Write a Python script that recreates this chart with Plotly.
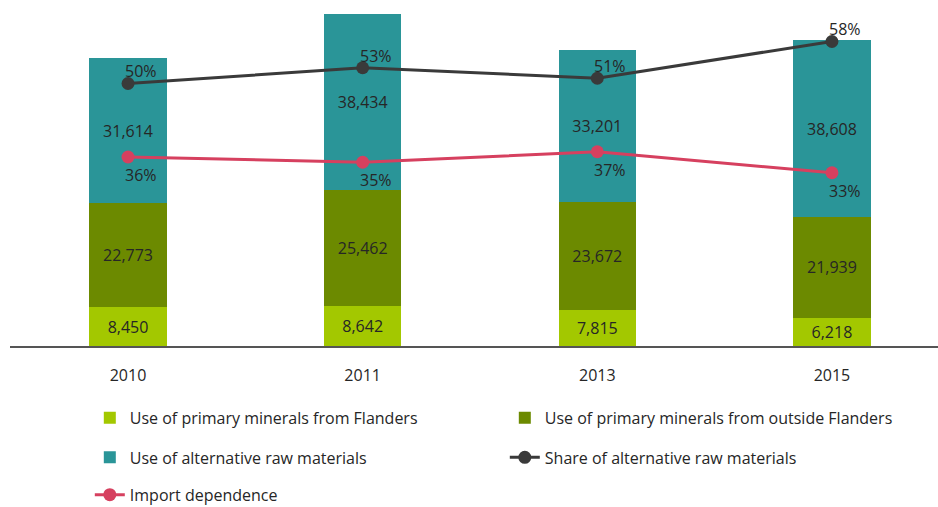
import plotly.graph_objects as go

years = ["2010", "2011", "2013", "2015"]
flanders = [8450, 8642, 7815, 6218]
outside = [22773, 25462, 23672, 21939]
alternative = [31614, 38434, 33201, 38608]
share_alt = [0.50, 0.53, 0.51, 0.58]
import_dep = [0.36, 0.35, 0.37, 0.33]

names = [
    "Use of primary minerals from Flanders",
    "Use of primary minerals from outside Flanders",
    "Use of alternative raw materials",
    "Share of alternative raw materials",
    "Import dependence",
]
c_fl = "#a3c800"
c_out = "#6c8a00"
c_alt = "#2a9598"
c_share = "#3a3a3a"
c_imp = "#d6405f"

FONT = "Open Sans"
FS = 16
txt = dict(family=FONT, size=FS, color="#262626")

fig = go.Figure()
for vals, col, nm, lg in [(flanders, c_fl, names[0], "legend"),
                          (outside, c_out, names[1], "legend"),
                          (alternative, c_alt, names[2], "legend2")]:
    fig.add_trace(go.Bar(
        x=years, y=vals, name=nm, marker=dict(color=col, line=dict(width=0)),
        width=0.33, texttemplate="%{y:,}", textposition="inside",
        insidetextanchor="middle", textfont=txt, legend=lg,
        constraintext="none",
    ))

fig.add_trace(go.Scatter(
    x=years, y=share_alt, name=names[3], yaxis="y2", mode="lines+markers",
    line=dict(color=c_share, width=3), marker=dict(size=13, color=c_share),
    legend="legend2",
))
fig.add_trace(go.Scatter(
    x=years, y=import_dep, name=names[4], yaxis="y2", mode="lines+markers",
    line=dict(color=c_imp, width=3), marker=dict(size=13, color=c_imp),
    legend="legend3",
))

# category index positions (numeric-looking category strings would be read as numbers)
annos = []
for i, yv in enumerate(share_alt):
    annos.append(dict(x=i, y=yv, xref="x", yref="y2", text=f"{round(yv*100)}%",
                      showarrow=False, xshift=13, yshift=12, font=txt))
for i, yv in enumerate(import_dep):
    annos.append(dict(x=i, y=yv, xref="x", yref="y2", text=f"{round(yv*100)}%",
                      showarrow=False, xshift=13, yshift=-18, font=txt))

leg_common = dict(orientation="h", xanchor="left", yanchor="middle",
                  entrywidth=370, entrywidthmode="pixels",
                  font=dict(family=FONT, size=FS, color="#262626"),
                  bgcolor="rgba(0,0,0,0)", traceorder="normal")

fig.update_layout(
    width=938, height=507,
    margin=dict(l=10, r=0, t=0, b=161, autoexpand=False),
    paper_bgcolor="white", plot_bgcolor="white",
    barmode="stack",
    font=dict(family=FONT, size=FS, color="#262626"),
    showlegend=True,
    annotations=annos,
    xaxis=dict(type="category", range=[-0.503, 3.452], showline=True,
               linecolor="#555555", linewidth=2, showgrid=False,
               ticks="", ticklabelstandoff=14, automargin=False,
               tickfont=dict(family=FONT, size=FS, color="#262626")),
    yaxis=dict(range=[0, 75600], showticklabels=False, showline=False,
               showgrid=False, zeroline=False, ticks=""),
    yaxis2=dict(range=[0, 0.659], overlaying="y", side="right",
                showticklabels=False, showline=False, ticks="",
                showgrid=False, zeroline=False),
    legend=dict(x=0.086, y=-0.208, **leg_common),
    legend2=dict(x=0.086, y=-0.322, **leg_common),
    legend3=dict(x=0.086, y=-0.43, **leg_common),
)

fig.write_html(
    "out.html",
    config={"displayModeBar": False},
    post_script="document.body.style.margin='0';document.body.style.overflow='hidden';",
)
